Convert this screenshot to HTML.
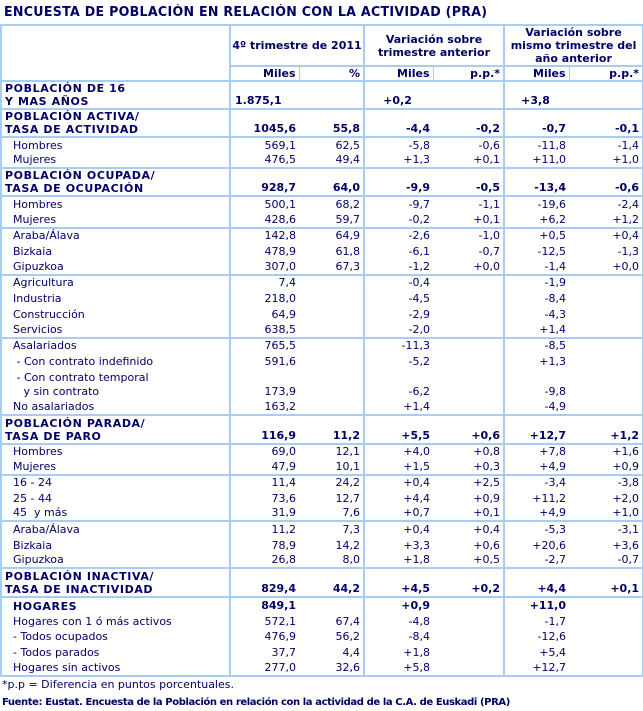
<!DOCTYPE html>
<html><head><meta charset="utf-8"><style>
body{margin:0;background:#fff;width:643px;height:711px;overflow:hidden;font-family:"DejaVu Sans","Liberation Sans",sans-serif;color:#000066;}
.title{position:absolute;left:4px;top:5px;font-size:13px;font-weight:bold;letter-spacing:0.3px;transform:scaleX(0.97);transform-origin:left}
table{position:absolute;left:0;top:24px;border-collapse:collapse;table-layout:fixed;width:642px;font-size:11px}
td{padding:0 3px 0 0;white-space:nowrap;text-align:right;line-height:14px;vertical-align:bottom;overflow:hidden}
td.l{text-align:left;padding-left:11px}
td.h{text-align:left;padding-left:3px;font-weight:bold;letter-spacing:0.6px;line-height:13px}
tr.b td{font-weight:bold}
.vl{border-left:2px solid #a8ccf4}
tr.t td{border-top:2px solid #a8ccf4}
.hd td{text-align:center;font-weight:bold;vertical-align:middle;line-height:13px;padding:0}
.sh td{text-align:right;font-weight:bold;padding-right:3px;vertical-align:middle;line-height:13px}
.foot{position:absolute;left:2px;top:678px;font-size:11px}
.src{position:absolute;left:2px;top:697px;font-size:10px;font-weight:bold;letter-spacing:-0.4px}
</style></head><body>
<div class="title">ENCUESTA DE POBLACIÓN EN RELACIÓN CON LA ACTIVIDAD (PRA)</div>
<table style="border:2px solid #a8ccf4">
<colgroup><col style="width:229px"><col style="width:69px"><col style="width:65px"><col style="width:69px"><col style="width:71px"><col style="width:65px"><col style="width:74px"></colgroup>
<tr class="hd" style="height:39px"><td rowspan="2" style="border-bottom:2px solid #a8ccf4"></td><td colspan="2" class="vl">4º trimestre de 2011</td><td colspan="2" class="vl">Variación sobre<br>trimestre anterior</td><td colspan="2" class="vl">Variación sobre<br>mismo trimestre del<br>año anterior</td></tr>
<tr class="sh" style="height:14px"><td class="vl" style="border-top:2px solid #a8ccf4;border-bottom:2px solid #a8ccf4">Miles</td><td style="border-top:2px solid #a8ccf4;border-bottom:2px solid #a8ccf4;border-left:1px solid #a8ccf4">%</td><td class="vl" style="border-top:2px solid #a8ccf4;border-bottom:2px solid #a8ccf4">Miles</td><td style="border-top:2px solid #a8ccf4;border-bottom:2px solid #a8ccf4;border-left:1px solid #a8ccf4">p.p.*</td><td class="vl" style="border-top:2px solid #a8ccf4;border-bottom:2px solid #a8ccf4">Miles</td><td style="border-top:2px solid #a8ccf4;border-bottom:2px solid #a8ccf4;border-left:1px solid #a8ccf4">p.p.*</td></tr>
<tr class="b" style="height:27px"><td class="h">POBLACIÓN DE 16<br>Y MAS AÑOS</td><td class="vl" style="text-align:left;padding-left:4px">1.875,1</td><td></td><td class="vl" style="text-align:center">+0,2</td><td></td><td class="vl" style="text-align:center">+3,8</td><td></td></tr>
<tr class="b t" style="height:27px"><td class="h">POBLACIÓN ACTIVA/<br>TASA DE ACTIVIDAD</td><td class="vl">1045,6</td><td>55,8</td><td class="vl">-4,4</td><td>-0,2</td><td class="vl">-0,7</td><td>-0,1</td></tr>
<tr class="t" style="height:15.5px"><td class="l">Hombres</td><td class="vl">569,1</td><td>62,5</td><td class="vl">-5,8</td><td>-0,6</td><td class="vl">-11,8</td><td>-1,4</td></tr>
<tr style="height:15.8px"><td class="l">Mujeres</td><td class="vl">476,5</td><td>49,4</td><td class="vl">+1,3</td><td>+0,1</td><td class="vl">+11,0</td><td>+1,0</td></tr>
<tr class="b t" style="height:26px"><td class="h">POBLACIÓN OCUPADA/<br>TASA DE OCUPACIÓN</td><td class="vl">928,7</td><td>64,0</td><td class="vl">-9,9</td><td>-0,5</td><td class="vl">-13,4</td><td>-0,6</td></tr>
<tr class="t" style="height:15.5px"><td class="l">Hombres</td><td class="vl">500,1</td><td>68,2</td><td class="vl">-9,7</td><td>-1,1</td><td class="vl">-19,6</td><td>-2,4</td></tr>
<tr style="height:15.8px"><td class="l">Mujeres</td><td class="vl">428,6</td><td>59,7</td><td class="vl">-0,2</td><td>+0,1</td><td class="vl">+6,2</td><td>+1,2</td></tr>
<tr class="t" style="height:15.5px"><td class="l">Araba/Álava</td><td class="vl">142,8</td><td>64,9</td><td class="vl">-2,6</td><td>-1,0</td><td class="vl">+0,5</td><td>+0,4</td></tr>
<tr style="height:15.8px"><td class="l">Bizkaia</td><td class="vl">478,9</td><td>61,8</td><td class="vl">-6,1</td><td>-0,7</td><td class="vl">-12,5</td><td>-1,3</td></tr>
<tr style="height:15.8px"><td class="l">Gipuzkoa</td><td class="vl">307,0</td><td>67,3</td><td class="vl">-1,2</td><td>+0,0</td><td class="vl">-1,4</td><td>+0,0</td></tr>
<tr class="t" style="height:15.5px"><td class="l">Agricultura</td><td class="vl">7,4</td><td></td><td class="vl">-0,4</td><td></td><td class="vl">-1,9</td><td></td></tr>
<tr style="height:15.8px"><td class="l">Industria</td><td class="vl">218,0</td><td></td><td class="vl">-4,5</td><td></td><td class="vl">-8,4</td><td></td></tr>
<tr style="height:15.8px"><td class="l">Construcción</td><td class="vl">64,9</td><td></td><td class="vl">-2,9</td><td></td><td class="vl">-4,3</td><td></td></tr>
<tr style="height:15.8px"><td class="l">Servicios</td><td class="vl">638,5</td><td></td><td class="vl">-2,0</td><td></td><td class="vl">+1,4</td><td></td></tr>
<tr class="t" style="height:15.5px"><td class="l">Asalariados</td><td class="vl">765,5</td><td></td><td class="vl">-11,3</td><td></td><td class="vl">-8,5</td><td></td></tr>
<tr style="height:15.8px"><td class="l">&nbsp;- Con contrato indefinido</td><td class="vl">591,6</td><td></td><td class="vl">-5,2</td><td></td><td class="vl">+1,3</td><td></td></tr>
<tr style="height:30.5px"><td class="l">&nbsp;- Con contrato temporal<br>&nbsp;&nbsp;&nbsp;y sin contrato</td><td class="vl">173,9</td><td></td><td class="vl">-6,2</td><td></td><td class="vl">-9,8</td><td></td></tr>
<tr style="height:15.8px"><td class="l">No asalariados</td><td class="vl">163,2</td><td></td><td class="vl">+1,4</td><td></td><td class="vl">-4,9</td><td></td></tr>
<tr class="b t" style="height:28.5px"><td class="h">POBLACIÓN PARADA/<br>TASA DE PARO</td><td class="vl">116,9</td><td>11,2</td><td class="vl">+5,5</td><td>+0,6</td><td class="vl">+12,7</td><td>+1,2</td></tr>
<tr class="t" style="height:15.5px"><td class="l">Hombres</td><td class="vl">69,0</td><td>12,1</td><td class="vl">+4,0</td><td>+0,8</td><td class="vl">+7,8</td><td>+1,6</td></tr>
<tr style="height:15.8px"><td class="l">Mujeres</td><td class="vl">47,9</td><td>10,1</td><td class="vl">+1,5</td><td>+0,3</td><td class="vl">+4,9</td><td>+0,9</td></tr>
<tr class="t" style="height:15.3px"><td class="l">16 - 24</td><td class="vl">11,4</td><td>24,2</td><td class="vl">+0,4</td><td>+2,5</td><td class="vl">-3,4</td><td>-3,8</td></tr>
<tr style="height:15.5px"><td class="l">25 - 44</td><td class="vl">73,6</td><td>12,7</td><td class="vl">+4,4</td><td>+0,9</td><td class="vl">+11,2</td><td>+2,0</td></tr>
<tr style="height:15.5px"><td class="l">45 &nbsp;y más</td><td class="vl">31,9</td><td>7,6</td><td class="vl">+0,7</td><td>+0,1</td><td class="vl">+4,9</td><td>+1,0</td></tr>
<tr class="t" style="height:15.5px"><td class="l">Araba/Álava</td><td class="vl">11,2</td><td>7,3</td><td class="vl">+0,4</td><td>+0,4</td><td class="vl">-5,3</td><td>-3,1</td></tr>
<tr style="height:15.8px"><td class="l">Bizkaia</td><td class="vl">78,9</td><td>14,2</td><td class="vl">+3,3</td><td>+0,6</td><td class="vl">+20,6</td><td>+3,6</td></tr>
<tr style="height:15.8px"><td class="l">Gipuzkoa</td><td class="vl">26,8</td><td>8,0</td><td class="vl">+1,8</td><td>+0,5</td><td class="vl">-2,7</td><td>-0,7</td></tr>
<tr class="b t" style="height:28.5px"><td class="h">POBLACIÓN INACTIVA/<br>TASA DE INACTIVIDAD</td><td class="vl">829,4</td><td>44,2</td><td class="vl">+4,5</td><td>+0,2</td><td class="vl">+4,4</td><td>+0,1</td></tr>
<tr class="b t" style="height:16px"><td class="h" style="padding-left:11px">HOGARES</td><td class="vl">849,1</td><td></td><td class="vl">+0,9</td><td></td><td class="vl">+11,0</td><td></td></tr>
<tr style="height:15.8px"><td class="l">Hogares con 1 ó más activos</td><td class="vl">572,1</td><td>67,4</td><td class="vl">-4,8</td><td></td><td class="vl">-1,7</td><td></td></tr>
<tr style="height:15.8px"><td class="l">- Todos ocupados</td><td class="vl">476,9</td><td>56,2</td><td class="vl">-8,4</td><td></td><td class="vl">-12,6</td><td></td></tr>
<tr style="height:15.8px"><td class="l">- Todos parados</td><td class="vl">37,7</td><td>4,4</td><td class="vl">+1,8</td><td></td><td class="vl">+5,4</td><td></td></tr>
<tr style="height:15.8px"><td class="l">Hogares sin activos</td><td class="vl">277,0</td><td>32,6</td><td class="vl">+5,8</td><td></td><td class="vl">+12,7</td><td></td></tr>
</table>
<div class="foot">*p.p = Diferencia en puntos porcentuales.</div>
<div class="src">Fuente: Eustat. Encuesta de la Población en relación con la actividad de la C.A. de Euskadi (PRA)</div>
</body></html>
